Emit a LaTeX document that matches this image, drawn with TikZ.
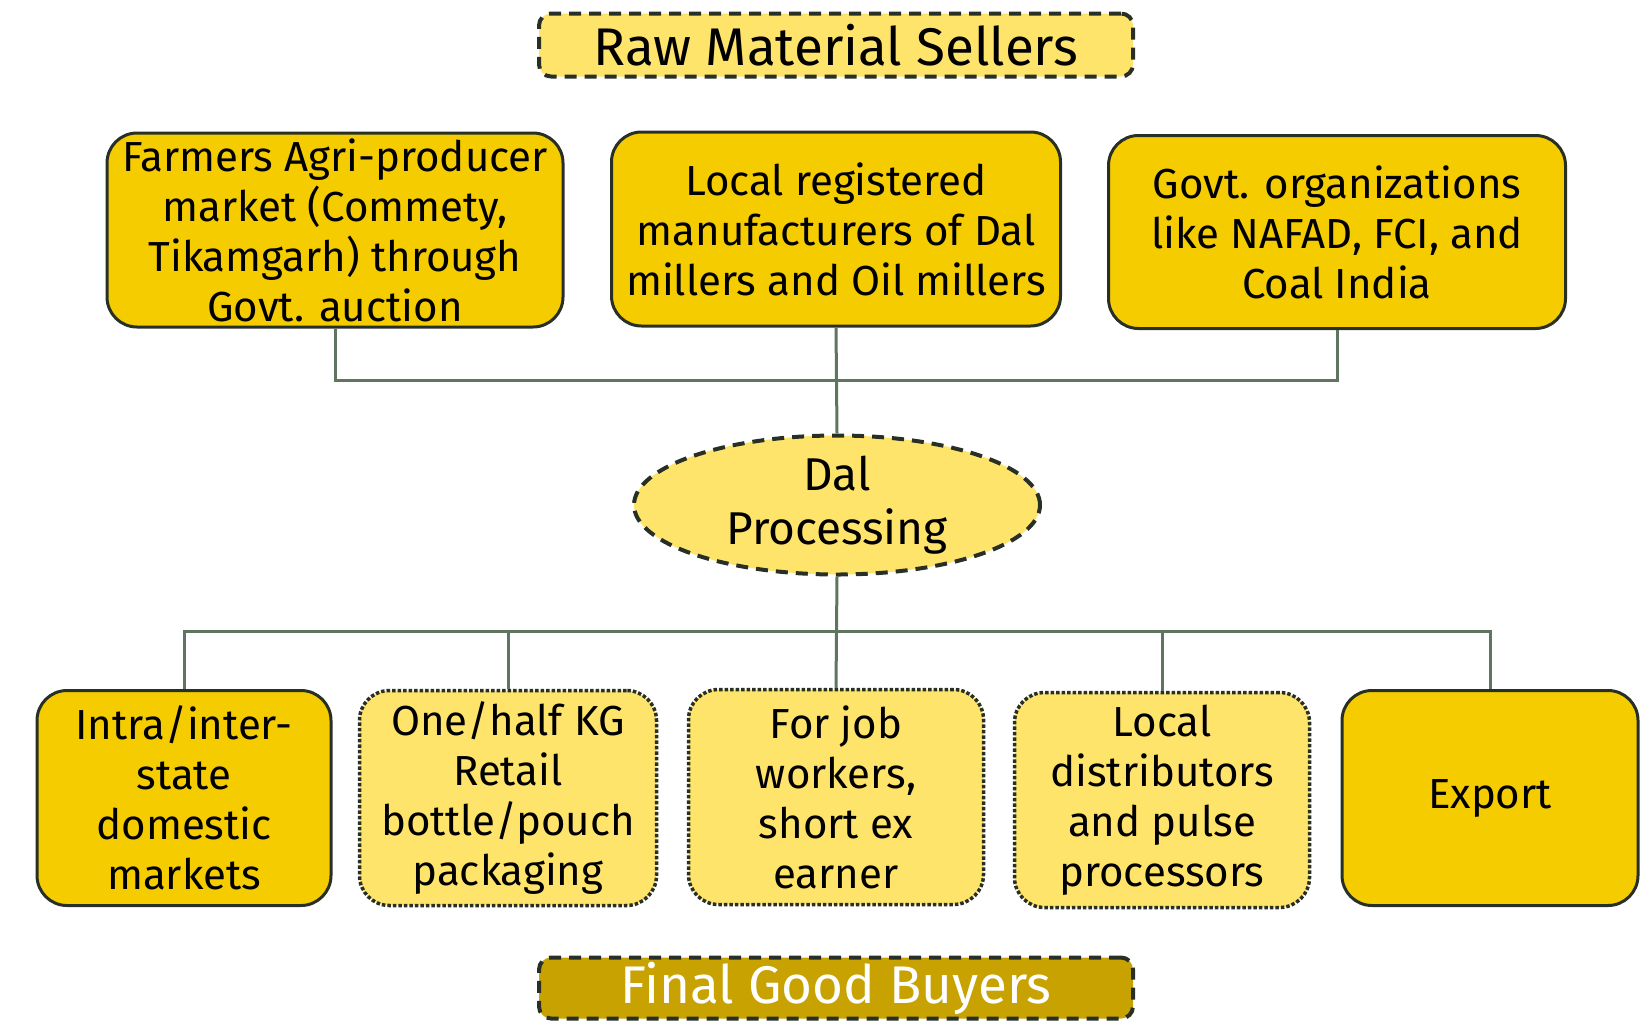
\documentclass[tikz,border=0pt]{standalone}
\usepackage{fontspec}
\setmainfont{Fira Sans}
\usetikzlibrary{shapes.geometric}
\definecolor{darkyel}{RGB}{245,204,0}
\definecolor{lightyel}{RGB}{255,228,107}
\definecolor{goldyel}{RGB}{200,162,0}
\definecolor{bord}{RGB}{40,48,38}
\definecolor{conn}{RGB}{95,117,96}
\tikzset{
  solidbox/.style={draw=bord, line width=3pt, fill=darkyel, rounded corners=30pt, align=center, inner sep=0pt, font=\fontsize{42}{50}\selectfont},
  dotbox/.style={draw=bord, line width=3.5pt, dotted, fill=lightyel, rounded corners=30pt, align=center, inner sep=0pt, font=\fontsize{42}{50}\selectfont},
  titlebox/.style={draw=bord, line width=4pt, dash pattern=on 12pt off 8pt, rounded corners=12pt, align=center, inner sep=0pt, font=\fontsize{53}{60}\selectfont},
  conline/.style={draw=conn, line width=3pt},
}
\begin{document}
\begin{tikzpicture}[x=1pt,y=-1pt]
\useasboundingbox (0,0) rectangle (1641,1020);
\node[titlebox, fill=lightyel, minimum width=594pt, minimum height=63pt] (t1) at (836,45) {Raw Material Sellers};
\node[solidbox, minimum width=456pt, minimum height=194pt] (b1) at (335,230) {Farmers Agri-producer\\market (Commety,\\Tikamgarh) through\\Govt. auction};
\node[solidbox, minimum width=449pt, minimum height=194pt] (b2) at (836,229) {Local registered\\manufacturers of Dal\\millers and Oil millers};
\node[solidbox, minimum width=457pt, minimum height=193pt] (b3) at (1337,232) {Govt. organizations\\like NAFAD, FCI, and\\Coal India};
\node[ellipse, draw=bord, line width=4pt, dash pattern=on 12pt off 8pt, fill=lightyel, minimum width=406pt, minimum height=137pt, inner sep=0pt, align=center, font=\fontsize{46}{54}\selectfont] (e) at (837,505) {Dal\\Processing};
\node[solidbox, minimum width=294pt, minimum height=215pt] (c1) at (184,798) {Intra/inter-\\state\\domestic\\markets};
\node[dotbox, minimum width=297pt, minimum height=215pt] (c2) at (508,798) {One/half KG\\Retail\\bottle/pouch\\packaging};
\node[dotbox, minimum width=295pt, minimum height=215pt] (c3) at (836,797) {For job\\workers,\\short ex\\earner};
\node[dotbox, minimum width=295pt, minimum height=215pt] (c4) at (1162,800) {Local\\distributors\\and pulse\\processors};
\node[solidbox, minimum width=296pt, minimum height=215pt] (c5) at (1490,798) {Export};
\node[titlebox, fill=goldyel, text=white, minimum width=594pt, minimum height=61pt] (t2) at (836,988) {Final Good Buyers};
\coordinate (j1) at (836,380);
\coordinate (j2) at (836,631);
\draw[conline] (b1.south) |- (j1) -| (b3.south);
\draw[conline] (b2.south) -- (e.north);
\draw[conline] (e.south) -- (c3.north);
\draw[conline] (c1.north) |- (j2) -| (c5.north);
\draw[conline] (c2.north) -- (c2.north |- j2);
\draw[conline] (c4.north) -- (c4.north |- j2);
\end{tikzpicture}
\end{document}
